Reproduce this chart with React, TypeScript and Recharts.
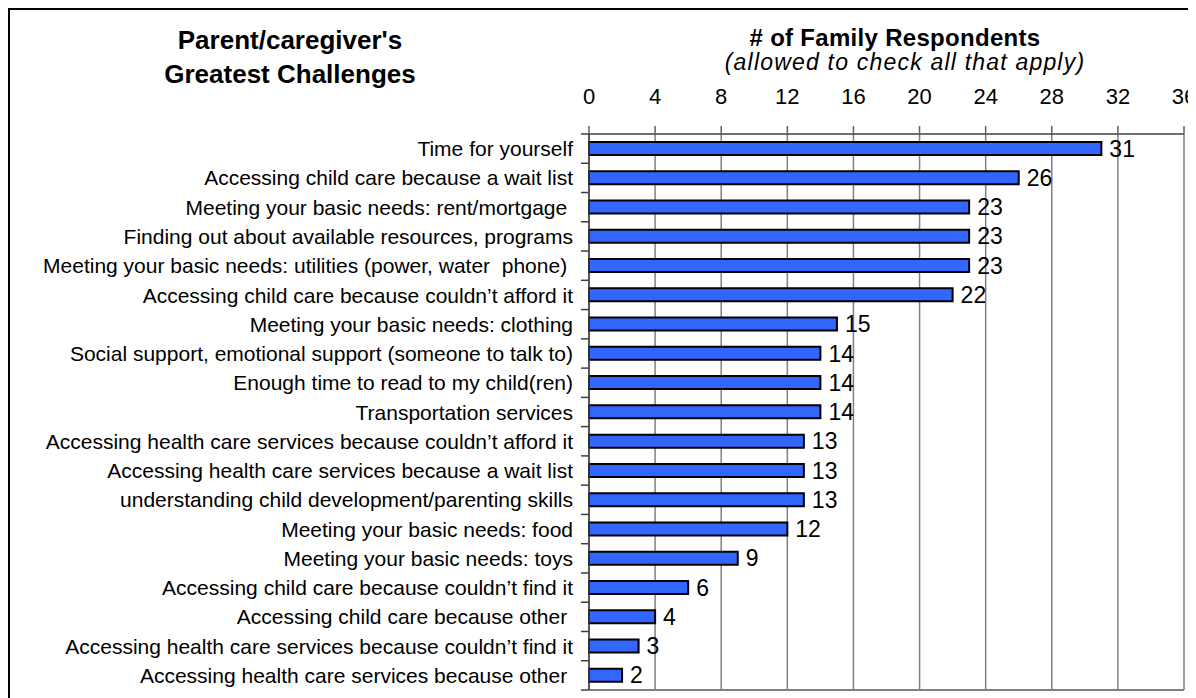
import React from 'react';
import { BarChart, Bar, XAxis, YAxis, CartesianGrid, LabelList } from 'recharts';

const categories = [
  'Time for yourself',
  'Accessing child care because a wait list',
  'Meeting your basic needs: rent/mortgage ',
  'Finding out about available resources, programs',
  'Meeting your basic needs: utilities (power, water  phone) ',
  'Accessing child care because couldn\u2019t afford it',
  'Meeting your basic needs: clothing',
  'Social support, emotional support (someone to talk to)',
  'Enough time to read to my child(ren)',
  'Transportation services',
  'Accessing health care services because couldn\u2019t afford it',
  'Accessing health care services because a wait list',
  'understanding child development/parenting skills',
  'Meeting your basic needs: food',
  'Meeting your basic needs: toys',
  'Accessing child care because couldn\u2019t find it',
  'Accessing child care because other ',
  'Accessing health care services because couldn\u2019t find it',
  'Accessing health care services because other ',
];

const respondents = [31, 26, 23, 23, 23, 22, 15, 14, 14, 14, 13, 13, 13, 12, 9, 6, 4, 3, 2];

const xTicks = [0, 4, 8, 12, 16, 20, 24, 28, 32, 36];

const data = categories.map((name, i) => ({ name, value: respondents[i] }));

const FONT = '"Liberation Sans", Arial, Helvetica, sans-serif';

// category label + Excel style tick marks between the bands
function CategoryTick(props: any) {
  const { x, y, payload, index } = props;
  const axisX = x + 16;
  const half = payload.offset || 0;
  return (
    <g>
      <line x1={axisX - 8} x2={axisX} y1={y - half} y2={y - half} stroke="#404040" strokeWidth={1.5} />
      {index === categories.length - 1 && (
        <line x1={axisX - 8} x2={axisX} y1={y + half} y2={y + half} stroke="#404040" strokeWidth={1.5} />
      )}
      <text
        x={x}
        y={y}
        dy="0.36em"
        textAnchor="end"
        fontSize={21}
        fill="#000"
        fontFamily={FONT}
        style={{ whiteSpace: 'pre' }}
      >
        {payload.value}
      </text>
    </g>
  );
}

export default function App() {
  return (
    <div
      style={{
        position: 'relative',
        width: 1188,
        height: 690,
        overflow: 'hidden',
        borderLeft: '2px solid #000',
        borderTop: '2px solid #000',
        boxSizing: 'border-box',
        background: '#fff',
        fontFamily: FONT,
      }}
    >
      <BarChart
        width={1240}
        height={688}
        data={data}
        layout="vertical"
        margin={{ top: 0, right: 66, bottom: 7, left: 0 }}
        barCategoryGap={0}
      >
        <CartesianGrid horizontal={false} vertical stroke="#808080" strokeWidth={1.5} />
        <XAxis
          type="number"
          orientation="top"
          domain={[0, 36]}
          ticks={xTicks}
          interval={0}
          height={124}
          tickSize={8}
          tickMargin={22}
          axisLine={{ stroke: '#404040', strokeWidth: 1.5 }}
          tickLine={{ stroke: '#606060', strokeWidth: 1.5 }}
          tick={{ fontSize: 22, fill: '#000', fontFamily: FONT }}
        />
        <XAxis
          xAxisId="bottom"
          type="number"
          orientation="bottom"
          domain={[0, 36]}
          ticks={xTicks}
          height={1}
          tick={false}
          tickLine={false}
          axisLine={{ stroke: '#808080', strokeWidth: 2 }}
        />
        <YAxis
          type="category"
          dataKey="name"
          width={579}
          interval={0}
          tickSize={8}
          tickMargin={8}
          tickLine={false}
          axisLine={{ stroke: '#404040', strokeWidth: 1.5 }}
          tick={<CategoryTick />}
        />
        <Bar
          dataKey="value"
          fill="#3366FF"
          stroke="#000"
          strokeWidth={2}
          barSize={13}
          isAnimationActive={false}
        >
          <LabelList dataKey="value" position="right" offset={8} fontSize={23} fill="#000" fontFamily={FONT} />
        </Bar>
      </BarChart>

      <div
        style={{
          position: 'absolute',
          left: 0,
          top: 13,
          width: 560,
          textAlign: 'center',
          fontWeight: 'bold',
          fontSize: 26,
          lineHeight: '34px',
        }}
      >
        Parent/caregiver's
        <br />
        Greatest Challenges
      </div>

      <div
        style={{
          position: 'absolute',
          left: 685,
          top: 14,
          width: 400,
          textAlign: 'center',
          fontWeight: 'bold',
          fontSize: 24,
          letterSpacing: 0.3,
          lineHeight: '28px',
        }}
      >
        # of Family Respondents
      </div>
      <div
        style={{
          position: 'absolute',
          left: 685,
          top: 39,
          width: 420,
          textAlign: 'center',
          fontStyle: 'italic',
          fontSize: 23,
          letterSpacing: 1.2,
          lineHeight: '26px',
        }}
      >
        (allowed to check all that apply)
      </div>
    </div>
  );
}
